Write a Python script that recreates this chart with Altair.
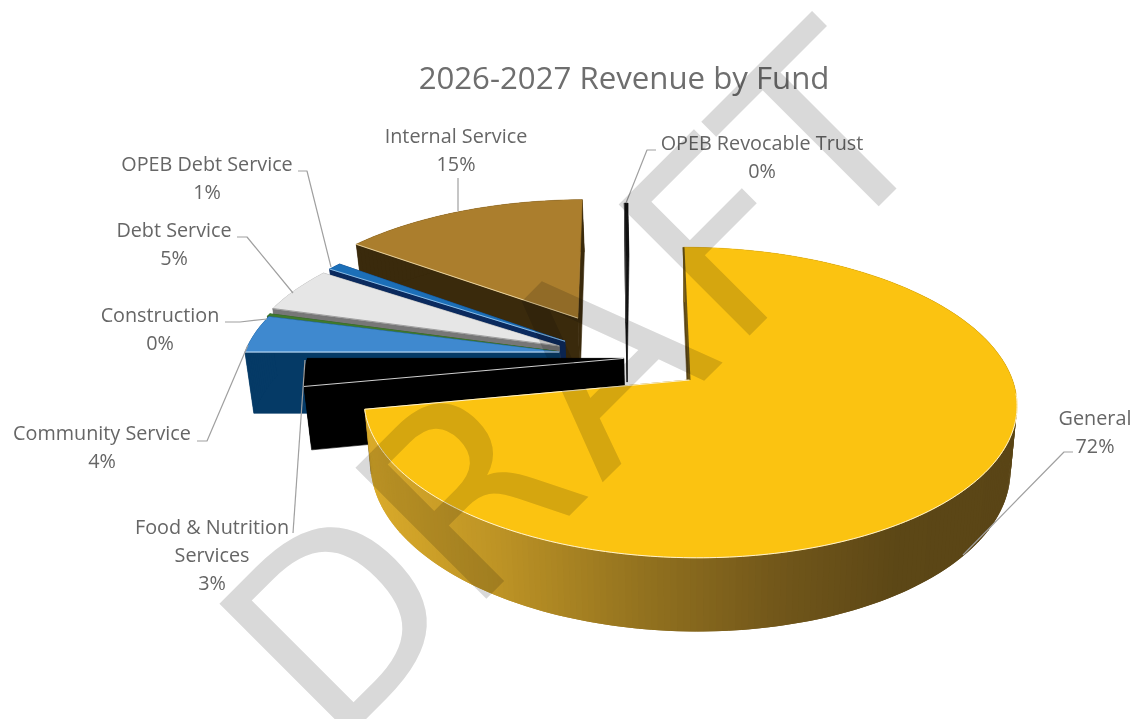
import math
import altair as alt

# Fund shares of revenue, clockwise from twelve o'clock
funds = ["General", "Food & Nutrition\nServices", "Community Service", "Construction",
         "Debt Service", "OPEB Debt Service", "Internal Service", "OPEB Revocable Trust"]
shares = [72.0, 3.0, 4.1, 0.3, 4.9, 0.8, 14.7, 0.2]

# Where each slice sits on the pie's plane once pulled out of the pie
slice_shift = [(0.0, 0.0), (-0.205, -0.145), (-0.41, -0.189), (-0.415, -0.192),
               (-0.412, -0.232), (-0.395, -0.265), (-0.358, -0.433), (-0.20, -0.40)]
top_colors = ["#fbc311", "#000000", "#3f89cf", "#3f7a2c", "#e6e6e6", "#1c6fb8", "#ab7e2d", "#111111"]
wall_colors = ["#5a4516", "#000000", "#053a66", "#25461e", "#777777", "#0b2a5e", "#3a2a0c", "#111111"]
edge_colors = ["#fff3cf", "#e8e8e8", "#dff0ff", "#3f7a2c", "#999999", "#9cc6ea", "#f3dfae", "#555555"]

# Label text anchors (centre x, first baseline) and leader-line bends
label_spot = [(1095, 425), (212, 534), (102, 440), (160, 322), (174, 237), (207, 171), (456, 143), (762, 150)]
leaders = [[(1073, 452), (1064, 452), (963, 555)],
           [(293, 533), (305, 360)],
           [(197, 441), (207, 441), (248, 345)],
           [(225, 322), (240, 322), (267, 319)],
           [(237, 237), (247, 237), (293, 293)],
           [(298, 171), (307, 171), (331, 267)],
           [(458, 178), (458, 211)],
           [(656, 150), (647, 150), (626, 203)]]

# Stamp letters and their centres along its 45-degree baseline
stamp_letters = ["D", "R", "A", "F", "T"]
stamp_along = [-199, -16, 170, 341, 488]
STAMP_LINE = 1085  # x + y on the baseline

W, H = 1135, 719
CX, CY = 689.5, 380.0      # apex of the front slice
AX, BY = 323.0, 152.0      # plane-to-screen scale
KP, SK = 0.145, 6.9        # perspective strength and lean
DEPTH, SHRINK = 63.0, 0.98 # pie thickness and narrowing of its lower rim

front_shades = [(370, "#d9aa2a"), (500, "#bd9325"), (640, "#94731f"),
                (780, "#72571a"), (900, "#5c4716"), (1015, "#5a4516")]


def project(X, Y):
    w = 1 - KP * Y
    return CX + (AX * X + SK * Y) / w, CY + BY * Y / w, w


def lower(pt):
    x, y, w = pt
    return CX + (x - CX) * SHRINK, y + DEPTH / w


def shade_at(x):
    for (x0, c0), (x1, c1) in zip(front_shades, front_shades[1:]):
        if x <= x1:
            t = max(0.0, (x - x0) / (x1 - x0))
            rgb = [round(int(c0[i:i + 2], 16) * (1 - t) + int(c1[i:i + 2], 16) * t) for i in (1, 3, 5)]
            return "#%02x%02x%02x" % tuple(rgb)
    return front_shades[-1][1]


def polygon(pts, fill, stroke=None, sw=0.6):
    ring = [[p[0], p[1]] for p in pts]
    ring.append(ring[0])
    return {"type": "Feature", "geometry": {"type": "Polygon", "coordinates": [ring]},
            "properties": {"fill": fill, "stroke": stroke or fill, "sw": sw}}


def polyline(pts, stroke, sw):
    return {"type": "Feature", "geometry": {"type": "LineString", "coordinates": [[p[0], p[1]] for p in pts]},
            "properties": {"fill": "none", "stroke": stroke, "sw": sw}}


features = []
total = sum(shares)
start_angle = [sum(shares[:i]) / total * 360 for i in range(len(shares))]
# Far slices are painted first, the large front slice last
paint_order = [7, 6, 5, 4, 3, 2, 1, 0]
for i in paint_order:
    a0 = start_angle[i]
    a1 = a0 + shares[i] / total * 360
    ox, oy = slice_shift[i]
    n = max(2, int((a1 - a0) / 1.0))
    angles = [a0 + (a1 - a0) * k / n for k in range(n + 1)]
    rim = [project(ox + math.sin(math.radians(a)), oy - math.cos(math.radians(a))) for a in angles]
    apex = project(ox, oy)
    for edge in (rim[-1], rim[0]):
        features.append(polygon([apex[:2], edge[:2], lower(edge), lower(apex)], wall_colors[i]))
    # Each wall band overlaps the next one so no seams show between shades
    for k in range(n):
        p, q = rim[k], rim[min(k + 2, n)]
        fill = shade_at(rim[k][0]) if i == 0 else wall_colors[i]
        features.append(polygon([p[:2], q[:2], lower(q), lower(p)], fill, sw=0))
    features.append(polygon([apex[:2]] + [p[:2] for p in rim], top_colors[i]))
    if i == 0:
        features.append(polyline([apex[:2], rim[0][:2]], "#6b5413", 2.0))
        front = [p[:2] for p, a in zip(rim, angles) if a > 95]
        features.append(polyline(front + [apex[:2]], edge_colors[i], 1.0))
    else:
        features.append(polyline([apex[:2], rim[0][:2]], edge_colors[i], 0.9))

for path in leaders:
    features.append(polyline(path, "#a0a0a0", 1.2))

pie = alt.Chart(alt.Data(values=features)).mark_geoshape(strokeJoin="round").encode(
    fill=alt.Fill("properties.fill:N", scale=None),
    stroke=alt.Stroke("properties.stroke:N", scale=None),
    strokeWidth=alt.StrokeWidth("properties.sw:Q", scale=None),
).project(type="identity", scale=1, translate=[0, 0])

rows = []
for name, share, (lx, ly) in zip(funds, shares, label_spot):
    lines = name.split("\n") + [f"{round(share)}%"]
    for k, line in enumerate(lines):
        rows.append({"t": line, "x": lx, "y": ly + 28 * k})

x_px = alt.X("x:Q", scale=alt.Scale(domain=[0, W], range=[0, W]), axis=None)
y_px = alt.Y("y:Q", scale=alt.Scale(domain=[0, H], range=[0, H]), axis=None)

labels = alt.Chart(alt.Data(values=rows)).mark_text(
    font="Open Sans", fontSize=19.8, color="#666666", align="center", baseline="alphabetic"
).encode(x=x_px, y=y_px, text="t:N")

title = alt.Chart(alt.Data(values=[{"t": "2026-2027 Revenue by Fund", "x": 624, "y": 89}])).mark_text(
    font="Open Sans", fontSize=31.2, color="#6e6e6e", align="center", baseline="alphabetic"
).encode(x=x_px, y=y_px, text="t:N")

stamp_rows = [{"t": ch, "x": (STAMP_LINE + u * math.sqrt(2)) / 2, "y": (STAMP_LINE - u * math.sqrt(2)) / 2}
              for ch, u in zip(stamp_letters, stamp_along)]
stamp = alt.Chart(alt.Data(values=stamp_rows)).mark_text(
    font="DejaVu Sans", fontSize=254, color="#d9d9d9", align="center", baseline="alphabetic",
    angle=315, blend="multiply"
).encode(x=x_px, y=y_px, text="t:N")

chart = alt.layer(pie, labels, title, stamp).resolve_scale(x="shared", y="shared").properties(
    width=W, height=H, padding=0, autosize=alt.AutoSizeParams(type="none"), background="white"
).configure_view(stroke=None)

chart.save("out.html", embed_options={"renderer": "svg", "actions": False})
